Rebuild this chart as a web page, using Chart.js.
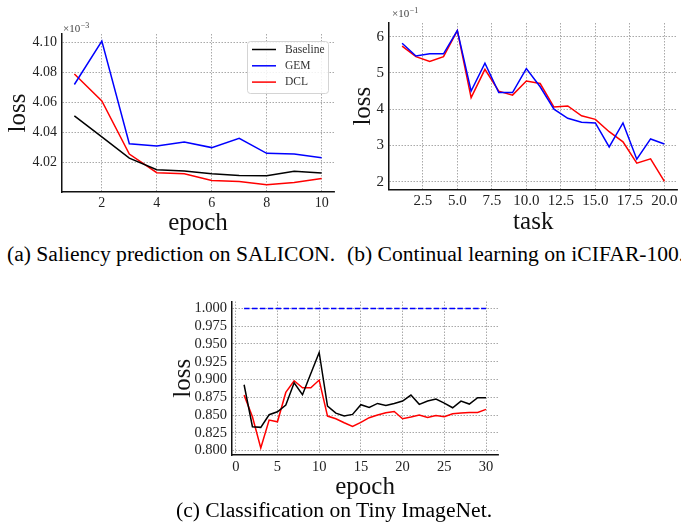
<!DOCTYPE html>
<html>
<head>
<meta charset="utf-8">
<script src="https://cdn.jsdelivr.net/npm/chart.js@4.4.1/dist/chart.umd.min.js"></script>
<style>
  html, body { margin: 0; padding: 0; background: #fff; }
  body { width: 681px; height: 531px; position: relative; overflow: hidden; }
  canvas { position: absolute; }
  .cap { position: absolute; font-family: "Liberation Serif", "Times New Roman", serif; font-size: 21.6px; line-height: 1; white-space: nowrap; color: #000; }
</style>
</head>
<body>
<canvas id="chartA" width="340" height="240" style="left:0px;top:0px"></canvas>
<canvas id="chartB" width="341" height="240" style="left:340px;top:0px"></canvas>
<canvas id="chartC" width="350" height="225" style="left:160px;top:280px"></canvas>
<div class="cap" style="left:7px;top:244px">(a) Saliency prediction on SALICON.</div>
<div class="cap" style="left:347px;top:244px">(b) Continual learning on iCIFAR-100.</div>
<div class="cap" style="left:176px;top:500px">(c) Classification on Tiny ImageNet.</div>
<script>
// ---------- Data ----------
const labels = ['Baseline', 'GEM', 'DCL'];

// (a) saliency, values in units of 1e-3
const epochsA = [1, 2, 3, 4, 5, 6, 7, 8, 9, 10];
const baselineA = [4.051, 4.037, 4.0228, 4.015, 4.0141, 4.0123, 4.0112, 4.011, 4.0139, 4.0128];
const gemA = [4.072, 4.101, 4.0324, 4.0309, 4.0336, 4.0298, 4.036, 4.026, 4.0255, 4.023];
const dclA = [4.079, 4.061, 4.0255, 4.013, 4.0123, 4.0078, 4.0071, 4.0049, 4.0065, 4.0092];
const xTicksA = [2, 4, 6, 8, 10];
const yTicksA = [4.02, 4.04, 4.06, 4.08, 4.10];

// (b) continual learning, values in units of 1e-1
const tasksB = [1, 2, 3, 4, 5, 6, 7, 8, 9, 10, 11, 12, 13, 14, 15, 16, 17, 18, 19, 20];
const gemB = [5.82, 5.47, 5.53, 5.53, 6.17, 4.50, 5.27, 4.46, 4.46, 5.12, 4.62, 4.00, 3.75, 3.64, 3.62, 2.96, 3.62, 2.62, 3.18, 3.04];
const dclB = [5.74, 5.45, 5.32, 5.45, 6.17, 4.32, 5.10, 4.50, 4.39, 4.78, 4.71, 4.06, 4.09, 3.82, 3.72, 3.38, 3.10, 2.51, 2.63, 2.01];
const xTicksB = [2.5, 5.0, 7.5, 10.0, 12.5, 15.0, 17.5, 20.0];
const yTicksB = [2, 3, 4, 5, 6];

// (c) classification
const epochsC = [1, 2, 3, 4, 5, 6, 7, 8, 9, 10, 11, 12, 13, 14, 15, 16, 17, 18, 19, 20, 21, 22, 23, 24, 25, 26, 27, 28, 29, 30];
const baselineC = [0.8926, 0.8335, 0.8326, 0.8504, 0.8546, 0.864, 0.8954, 0.8785, 0.9085, 0.938,
  0.8626, 0.8527, 0.8485, 0.8509, 0.8645, 0.8607, 0.8663, 0.8635, 0.8663, 0.8696,
  0.878, 0.865, 0.8696, 0.8724, 0.8668, 0.8602, 0.8696, 0.8654, 0.8743, 0.8743];
const gemC = [1.0, 1.0, 1.0, 1.0, 1.0, 1.0, 1.0, 1.0, 1.0, 1.0,
  1.0, 1.0, 1.0, 1.0, 1.0, 1.0, 1.0, 1.0, 1.0, 1.0,
  1.0, 1.0, 1.0, 1.0, 1.0, 1.0, 1.0, 1.0, 1.0, 1.0];
const dclC = [0.878, 0.8476, 0.8035, 0.8429, 0.8405, 0.8818, 0.8982, 0.8884, 0.8884, 0.8992,
  0.8485, 0.8448, 0.8391, 0.834, 0.8396, 0.8462, 0.8499, 0.8532, 0.855, 0.8448,
  0.8471, 0.8499, 0.8466, 0.8494, 0.8476, 0.8518, 0.8527, 0.8537, 0.8537, 0.8579];
const xTicksC = [0, 5, 10, 15, 20, 25, 30];
const yTicksC = [0.800, 0.825, 0.850, 0.875, 0.900, 0.925, 0.950, 0.975, 1.000];

const SERIF = '"Liberation Serif", "Times New Roman", serif';
const GRID = 'rgba(110,110,110,0.75)';

function pts(xs, ys) {
  return xs.map((x, i) => ({ x, y: ys[i] }));
}

function line(label, xs, ys, color, dash) {
  return {
    label, data: pts(xs, ys), borderColor: color, backgroundColor: color,
    borderWidth: 1.5, pointRadius: 0, tension: 0, borderDash: dash || []
  };
}

// ---------- Plugins ----------
// matplotlib-style offset text, e.g. x10^-3 above the y axis
const offsetText = {
  id: 'offsetText',
  afterDraw(chart, args, opts) {
    if (!opts.exp) return;
    const { ctx, chartArea } = chart;
    const x = chartArea.left + (opts.dx || 1);
    const y = chartArea.top - (opts.dy || 3);
    ctx.save();
    ctx.fillStyle = '#444';
    ctx.textBaseline = 'alphabetic';
    ctx.font = '11px ' + SERIF;
    ctx.fillText('\u00d710', x, y);
    const w = ctx.measureText('\u00d710').width;
    ctx.font = '8px ' + SERIF;
    ctx.fillText(opts.exp, x + w + 0.5, y - 4);
    ctx.restore();
  }
};

const legendBox = {
  id: 'legendBox',
  afterDatasetsDraw(chart, args, opts) {
    if (!opts.show) return;
    const { ctx, chartArea } = chart;
    const sets = chart.data.datasets;
    const w = 81, h = 52;
    const x = chartArea.right - 6 - w, y = chartArea.top + 7;
    ctx.save();
    ctx.fillStyle = 'rgba(255,255,255,0.85)';
    ctx.strokeStyle = '#d4d4d4';
    ctx.lineWidth = 1;
    ctx.beginPath();
    ctx.roundRect(x + 0.5, y + 0.5, w, h, 3);
    ctx.fill();
    ctx.stroke();
    ctx.font = '11.5px ' + SERIF;
    ctx.textBaseline = 'middle';
    sets.forEach((ds, i) => {
      const cy = y + 8.5 + i * 16.3;
      ctx.strokeStyle = ds.borderColor;
      ctx.lineWidth = 1.5;
      ctx.beginPath();
      ctx.moveTo(x + 5, cy);
      ctx.lineTo(x + 29, cy);
      ctx.stroke();
      ctx.fillStyle = '#333';
      ctx.fillText(ds.label, x + 38, cy);
    });
    ctx.restore();
  }
};

// ---------- Chart builder ----------
function makeChart(id, p) {
  const axis = (ticks, fmt, min, max, size, fontSize, title, titlePad, fixVal) => ({
    type: 'linear', min, max,
    afterBuildTicks: s => { s.ticks = ticks.map(v => ({ value: v })); },
    afterFit: s => { if (s.isHorizontal()) s.height = size; else s.width = size; },
    ticks: { autoSkip: false, maxRotation: 0, callback: v => fmt(v), color: '#222', padding: fixVal, font: { family: SERIF, size: fontSize } },
    grid: { color: GRID, lineWidth: 0.8, drawTicks: false },
    border: { display: true, color: '#111', width: 1.5, dash: [1.5, 1.5] },
    title: { display: true, text: title, color: '#111', padding: titlePad, font: { family: SERIF, size: 25 } }
  });
  return new Chart(document.getElementById(id), {
    type: 'line',
    data: { datasets: p.datasets },
    options: {
      responsive: false,
      animation: false,
      layout: { padding: p.padding },
      plugins: {
        legend: { display: false },
        tooltip: { enabled: false },
        offsetText: { exp: p.exp, dx: p.offDx, dy: p.offDy },
        legendBox: { show: p.legend }
      },
      scales: {
        x: axis(p.xTicks, p.xFmt, p.xMin, p.xMax, p.xSize, p.fontSize, p.xTitle, p.xTitlePad, 3),
        y: axis(p.yTicks, p.yFmt, p.yMin, p.yMax, p.ySize, p.fontSize, 'loss', p.yTitlePad, 5)
      }
    },
    plugins: [offsetText, legendBox]
  });
}

// (a)
makeChart('chartA', {
  datasets: [
    line(labels[0], epochsA, baselineA, '#000000'),
    line(labels[1], epochsA, gemA, '#0000ff'),
    line(labels[2], epochsA, dclA, '#ff0000')
  ],
  padding: { left: 0, top: 34, right: 6, bottom: 0 },
  xTicks: xTicksA, yTicks: yTicksA,
  xFmt: v => String(v), yFmt: v => v.toFixed(2),
  xMin: 0.55, xMax: 10.45, yMin: 4.0001, yMax: 4.1058,
  xSize: 48, ySize: 62, fontSize: 14,
  xTitle: 'epoch', xTitlePad: { top: 0, bottom: 2 }, yTitlePad: { top: 3, bottom: 0 },
  exp: '\u22123', offDx: 1, offDy: 2, legend: true
});

// (b)
makeChart('chartB', {
  datasets: [
    line(labels[1], tasksB, gemB, '#0000ff'),
    line(labels[2], tasksB, dclB, '#ff0000')
  ],
  padding: { left: 0, top: 23, right: 3.5, bottom: 0 },
  xTicks: xTicksB, yTicks: yTicksB,
  xFmt: v => v.toFixed(1), yFmt: v => String(v),
  xMin: 0.05, xMax: 20.95, yMin: 1.79, yMax: 6.38,
  xSize: 50.7, ySize: 49, fontSize: 15,
  xTitle: 'task', xTitlePad: { top: 0, bottom: 3 }, yTitlePad: { top: 8, bottom: 0 },
  exp: '\u22121', offDx: 3, offDy: 6, legend: false
});

// (c)
makeChart('chartC', {
  datasets: [
    line(labels[0], epochsC, baselineC, '#000000'),
    line(labels[1], epochsC, gemC, '#0000ff', [5.5, 2.4]),
    line(labels[2], epochsC, dclC, '#ff0000')
  ],
  padding: { left: 0, top: 21.5, right: 11.9, bottom: 0 },
  xTicks: xTicksC, yTicks: yTicksC,
  xFmt: v => String(v), yFmt: v => v.toFixed(3),
  xMin: -0.45, xMax: 31.45, yMin: 0.7937, yMax: 1.0098,
  xSize: 50, ySize: 72, fontSize: 14.5,
  xTitle: 'epoch', xTitlePad: { top: 0, bottom: 3 }, yTitlePad: { top: 8, bottom: 0 },
  exp: null, legend: false
});
</script>
</body>
</html>
